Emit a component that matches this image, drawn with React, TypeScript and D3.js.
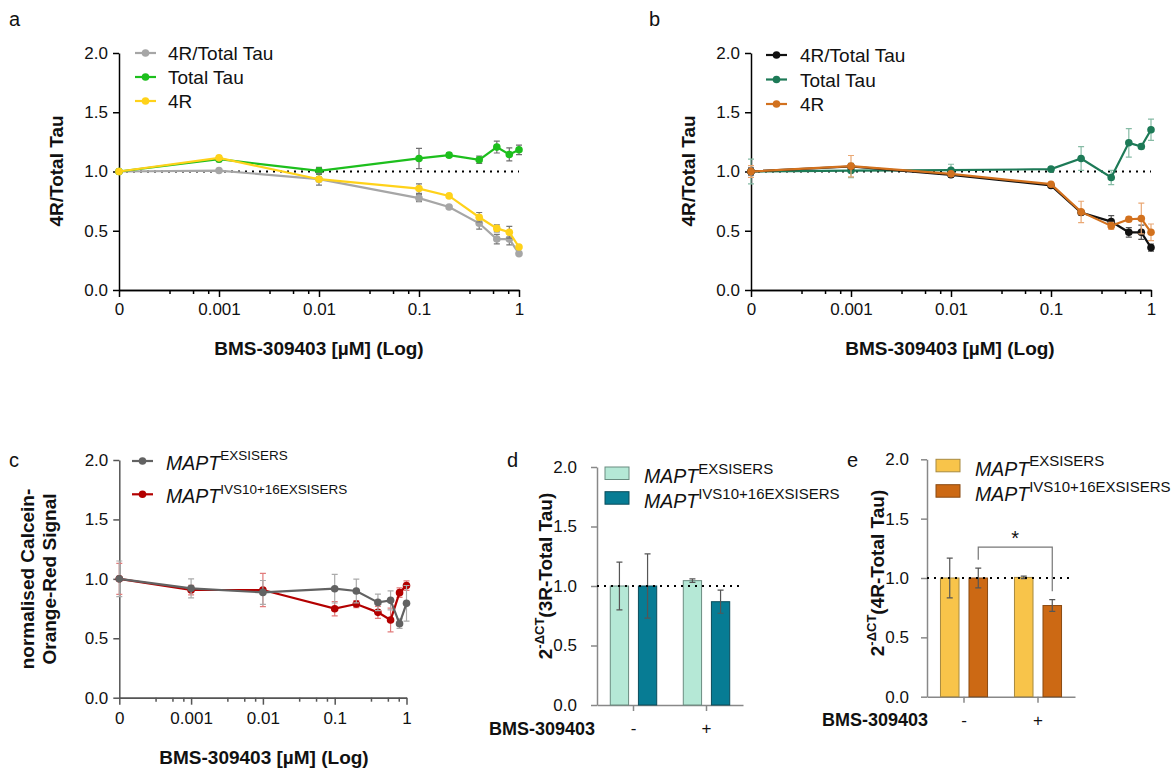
import React, { useEffect, useRef } from "react";
import * as d3 from "d3";

const FONT = "'Liberation Sans', Arial, Helvetica, sans-serif";

// the "0" dose sits at 1e-4 on the log axis
const doses = [0.0001, 0.001, 0.01, 0.1, 0.2, 0.4, 0.6, 0.8, 1];
const doseTicks = [0.0001, 0.001, 0.01, 0.1, 1];
const doseTickLabels = ["0", "0.001", "0.01", "0.1", "1"];
const minorSteps = [3.2, 5.5, 7.8];
const yTicks = [0, 0.5, 1, 1.5, 2];

// panel a
const aRatio = [1.0, 1.008, 0.935, 0.775, 0.7, 0.563, 0.43, 0.43, 0.307];
const aRatioErr = [0, 0.01, 0.02, 0.03, 0.01, 0.05, 0.04, 0.05, 0.01];
const aTotal = [1.0, 1.104, 1.005, 1.11, 1.138, 1.099, 1.206, 1.144, 1.183];
const aTotalErr = [0, 0.02, 0.03, 0.085, 0.02, 0.03, 0.05, 0.055, 0.04];
const a4R = [1.0, 1.115, 0.935, 0.856, 0.794, 0.614, 0.52, 0.487, 0.363];
const a4RErr = [0, 0.02, 0.05, 0.04, 0.01, 0.04, 0.03, 0.05, 0.01];

// panel b
const bRatio = [1.0, 1.042, 0.972, 0.882, 0.654, 0.577, 0.487, 0.487, 0.358];
const bRatioErr = [0.03, 0.02, 0.02, 0.01, 0.02, 0.05, 0.04, 0.06, 0.03];
const bTotal = [1.0, 1.008, 1.011, 1.02, 1.11, 0.95, 1.242, 1.211, 1.352];
const bTotalErr = [0.105, 0.06, 0.05, 0.01, 0.1, 0.06, 0.12, 0.02, 0.09];
const b4R = [1.0, 1.045, 0.98, 0.893, 0.659, 0.541, 0.597, 0.603, 0.487];
const b4RErr = [0.05, 0.09, 0.02, 0.01, 0.09, 0.03, 0.02, 0.13, 0.07];

// panel c
const cEx = [1.0, 0.92, 0.886, 0.917, 0.898, 0.802, 0.819, 0.623, 0.794];
const cExErr = [0.15, 0.08, 0.1, 0.12, 0.1, 0.07, 0.08, 0.04, 0.15];
const cIvs = [1.0, 0.906, 0.906, 0.749, 0.788, 0.718, 0.654, 0.884, 0.943];
const cIvsErr = [0.13, 0.04, 0.14, 0.06, 0.03, 0.05, 0.1, 0.04, 0.04];

// panels d and e
const treatments = ["-", "+"];
const dEx = [1.0, 1.045];
const dExErr = [0.2, 0.015];
const dIvs = [1.0, 0.868];
const dIvsErr = [0.27, 0.097];
const eEx = [1.0, 1.005];
const eExErr = [0.168, 0.01];
const eIvs = [1.0, 0.768];
const eIvsErr = [0.084, 0.05];

type Series = {
  label: string;
  sup?: string;
  values: number[];
  errors: number[];
  color: string;
  errColor: string;
};

const styleAxis = (g: any, color: string) => {
  g.attr("font-family", FONT).attr("font-size", 17);
  g.selectAll("path.domain").attr("stroke", color).attr("stroke-width", 1.5);
  g.selectAll(".tick line").attr("stroke", color).attr("stroke-width", 1.5);
  g.selectAll(".tick text").attr("fill", "#111");
};

// legend text, italic gene name + superscript when needed
const writeLabel = (t: any, s: { label: string; sup?: string }, size: number, supSize: number) => {
  t.append("tspan")
    .attr("font-size", size)
    .attr("font-style", s.sup ? "italic" : "normal")
    .text(s.label);
  if (s.sup) {
    t.append("tspan").attr("font-size", supSize).attr("dy", -9.3).text(s.sup);
  }
};

const drawLinePanel = (svg: any, p: any) => {
  const x = d3.scaleLog().domain([doseTicks[0], doseTicks[doseTicks.length - 1]]).range([p.left, p.right]);
  const y = d3.scaleLinear().domain([0, 2]).range([p.bottom, p.top]);
  const g = svg.append("g");

  if (p.refLine) {
    g.append("line")
      .attr("x1", p.left)
      .attr("x2", p.right)
      .attr("y1", y(1))
      .attr("y2", y(1))
      .attr("stroke", "#000")
      .attr("stroke-width", 2)
      .attr("stroke-dasharray", "2,5");
  }

  const minor = doseTicks.slice(0, -1).flatMap((d) => minorSteps.map((s) => d * s));
  g.append("g")
    .attr("transform", `translate(0,${p.bottom})`)
    .call(d3.axisBottom(x).tickValues(minor).tickSize(4).tickSizeOuter(0).tickFormat(() => ""))
    .call(styleAxis, p.axisColor);
  g.append("g")
    .attr("transform", `translate(0,${p.bottom})`)
    .call(
      d3
        .axisBottom(x)
        .tickValues(doseTicks)
        .tickFormat((_: any, i: number) => doseTickLabels[i])
        .tickSize(7)
        .tickSizeOuter(0)
        .tickPadding(p.xPad)
    )
    .call(styleAxis, p.axisColor);
  g.append("g")
    .attr("transform", `translate(${p.left},0)`)
    .call(d3.axisLeft(y).tickValues(yTicks).tickFormat(d3.format(".1f")).tickSize(6).tickSizeOuter(0).tickPadding(5))
    .call(styleAxis, p.axisColor);

  const line = d3
    .line<number>()
    .x((_, i) => x(doses[i]))
    .y((v) => y(v));

  p.series.forEach((s: Series) => {
    const sg = g.append("g");
    s.values.forEach((v, i) => {
      const e = s.errors[i];
      if (!e) return;
      const cx = x(doses[i]);
      sg.append("path")
        .attr("d", `M${cx},${y(v - e)}V${y(v + e)}M${cx - 3},${y(v - e)}h6M${cx - 3},${y(v + e)}h6`)
        .attr("stroke", s.errColor)
        .attr("stroke-width", 1.2)
        .attr("fill", "none");
    });
    sg.append("path")
      .datum(s.values)
      .attr("d", line)
      .attr("fill", "none")
      .attr("stroke", s.color)
      .attr("stroke-width", 2.2);
    sg.selectAll("circle")
      .data(s.values)
      .join("circle")
      .attr("cx", (_: any, i: number) => x(doses[i]))
      .attr("cy", (v: number) => y(v))
      .attr("r", 3.8)
      .attr("fill", s.color);
  });

  // legend
  p.legendOrder.forEach((s: Series, i: number) => {
    const ly = p.legend.y + i * p.legend.dy;
    const lg = g.append("g");
    lg.append("line")
      .attr("x1", p.legend.x)
      .attr("x2", p.legend.x + 21)
      .attr("y1", ly)
      .attr("y2", ly)
      .attr("stroke", s.color)
      .attr("stroke-width", 2.2);
    lg.append("circle").attr("cx", p.legend.x + 10.5).attr("cy", ly).attr("r", 3.8).attr("fill", s.color);
    const t = lg
      .append("text")
      .attr("x", p.legend.x + p.legend.tx)
      .attr("y", ly + p.legend.by)
      .attr("font-family", FONT)
      .attr("fill", "#111");
    writeLabel(t, s, p.legend.size, 13.5);
  });

  // axis titles
  const yl = g
    .append("text")
    .attr("transform", `translate(${p.yLabel.x},${p.yLabel.y}) rotate(-90)`)
    .attr("text-anchor", "middle")
    .attr("font-family", FONT)
    .attr("font-weight", "bold")
    .attr("font-size", 19)
    .attr("fill", "#111");
  p.yLabel.lines.forEach((l: string, i: number) => {
    yl.append("tspan")
      .attr("x", 0)
      .attr("dy", i === 0 ? `${0.35 - (p.yLabel.lines.length - 1) * 0.58}em` : "1.16em")
      .text(l);
  });
  g.append("text")
    .attr("x", p.xLabel.x)
    .attr("y", p.xLabel.y)
    .attr("text-anchor", "middle")
    .attr("font-family", FONT)
    .attr("font-weight", "bold")
    .attr("font-size", 19)
    .attr("fill", "#111")
    .text("BMS-309403 [µM] (Log)");
};

const drawBarPanel = (svg: any, p: any) => {
  const x0 = d3.scaleBand().domain(treatments).range([p.left, p.right]).paddingInner(0.364).paddingOuter(0.182);
  const x1 = d3
    .scaleBand()
    .domain(p.groups.map((_: any, i: number) => String(i)))
    .range([0, x0.bandwidth()])
    .paddingInner(0.35);
  const y = d3.scaleLinear().domain([0, 2]).range([p.bottom, p.top]);
  const g = svg.append("g");

  g.append("g")
    .attr("transform", `translate(0,${p.bottom})`)
    .call(d3.axisBottom(x0).tickSize(6).tickSizeOuter(0).tickPadding(11))
    .call(styleAxis, p.axisColor);
  g.append("g")
    .attr("transform", `translate(${p.left},0)`)
    .call(
      d3.axisLeft(y).tickValues(yTicks).tickFormat(d3.format(".1f")).tickSize(6).tickSizeOuter(0).tickPadding(p.yPad)
    )
    .call(styleAxis, p.axisColor);

  p.groups.forEach((s: any, gi: number) => {
    treatments.forEach((t, ti) => {
      const bx = (x0(t) as number) + (x1(String(gi)) as number);
      const v = s.values[ti];
      const e = s.errors[ti];
      g.append("rect")
        .attr("x", bx)
        .attr("y", y(v))
        .attr("width", x1.bandwidth())
        .attr("height", y(0) - y(v))
        .attr("fill", s.color)
        .attr("stroke", s.stroke)
        .attr("stroke-width", 1);
      const cx = bx + x1.bandwidth() / 2;
      g.append("path")
        .attr("d", `M${cx},${y(v - e)}V${y(v + e)}M${cx - 3},${y(v - e)}h6M${cx - 3},${y(v + e)}h6`)
        .attr("stroke", "#555")
        .attr("stroke-width", 1.2)
        .attr("fill", "none");
    });
  });

  g.append("line")
    .attr("x1", p.left)
    .attr("x2", p.refEnd)
    .attr("y1", y(1))
    .attr("y2", y(1))
    .attr("stroke", "#000")
    .attr("stroke-width", 2.2)
    .attr("stroke-dasharray", "2,5");

  if (p.signif) {
    const bx = (t: string) => (x0(t) as number) + (x1("1") as number) + x1.bandwidth() / 2;
    const s = p.groups[1];
    const l = bx("-");
    const r = bx("+");
    const top = y(1.26);
    g.append("path")
      .attr(
        "d",
        `M${l},${y(s.values[0] + s.errors[0] + 0.07)}V${top}H${r}V${y(s.values[1] + s.errors[1] + 0.07)}`
      )
      .attr("fill", "none")
      .attr("stroke", "#777")
      .attr("stroke-width", 1.2);
    g.append("text")
      .attr("x", (l + r) / 2)
      .attr("y", top - 2)
      .attr("text-anchor", "middle")
      .attr("font-family", FONT)
      .attr("font-size", 20)
      .attr("fill", "#111")
      .text("*");
  }

  p.groups.forEach((s: any, i: number) => {
    const ly = p.legend.y + i * p.legend.dy;
    g.append("rect")
      .attr("x", p.legend.x)
      .attr("y", ly)
      .attr("width", 24)
      .attr("height", 12.5)
      .attr("fill", s.color)
      .attr("stroke", s.stroke)
      .attr("stroke-width", 1);
    const t = g
      .append("text")
      .attr("x", p.legend.x + 39)
      .attr("y", ly + 16.3)
      .attr("font-family", FONT)
      .attr("fill", "#111");
    writeLabel(t, s, 19.5, 15);
  });

  // treatment label left of tick labels
  g.append("text")
    .attr("x", p.treatX)
    .attr("y", p.bottom + 29.5)
    .attr("text-anchor", "end")
    .attr("font-family", FONT)
    .attr("font-weight", "bold")
    .attr("font-size", 18)
    .attr("fill", "#111")
    .text("BMS-309403");

  const yl = g
    .append("text")
    .attr("transform", `translate(${p.yLabel.x},${p.yLabel.y}) rotate(-90)`)
    .attr("text-anchor", "middle")
    .attr("dy", "0.35em")
    .attr("font-family", FONT)
    .attr("font-weight", "bold")
    .attr("font-size", 19)
    .attr("fill", "#111");
  yl.append("tspan").text("2");
  yl.append("tspan").attr("font-size", 13).attr("dy", -8).text("-ΔCT");
  yl.append("tspan").attr("dy", 8).text(p.yLabel.text);
};

const panelLetter = (svg: any, letter: string, x: number, y: number) => {
  svg
    .append("text")
    .attr("x", x)
    .attr("y", y)
    .attr("font-family", FONT)
    .attr("font-size", 20)
    .attr("fill", "#111")
    .text(letter);
};

const App = () => {
  const ref = useRef<SVGSVGElement>(null);

  useEffect(() => {
    const svg = d3.select(ref.current);
    svg.selectAll("*").remove();

    const aS: Series[] = [
      { label: "4R/Total Tau", values: aRatio, errors: aRatioErr, color: "#a6a6a6", errColor: "#7a7a7a" },
      { label: "Total Tau", values: aTotal, errors: aTotalErr, color: "#1dbf1d", errColor: "#6f6f6f" },
      { label: "4R", values: a4R, errors: a4RErr, color: "#ffd21a", errColor: "#777" },
    ];
    drawLinePanel(svg, {
      left: 119,
      right: 519,
      top: 53,
      bottom: 290,
      axisColor: "#000",
      xPad: 6,
      refLine: true,
      series: aS,
      legendOrder: aS,
      legend: { x: 135, y: 53, dy: 24, tx: 33, by: 7, size: 19 },
      yLabel: { x: 56, y: 171, lines: ["4R/Total Tau"] },
      xLabel: { x: 319, y: 355 },
    });

    const bS: Series[] = [
      { label: "4R/Total Tau", values: bRatio, errors: bRatioErr, color: "#111", errColor: "#555" },
      { label: "Total Tau", values: bTotal, errors: bTotalErr, color: "#1d7a57", errColor: "#86bba5" },
      { label: "4R", values: b4R, errors: b4RErr, color: "#d2711e", errColor: "#eaa874" },
    ];
    drawLinePanel(svg, {
      left: 751,
      right: 1151,
      top: 53,
      bottom: 290,
      axisColor: "#000",
      xPad: 6,
      refLine: true,
      series: [bS[1], bS[0], bS[2]],
      legendOrder: bS,
      legend: { x: 766, y: 55, dy: 24.5, tx: 34, by: 7, size: 19 },
      yLabel: { x: 688, y: 171, lines: ["4R/Total Tau"] },
      xLabel: { x: 950, y: 355 },
    });

    const cS: Series[] = [
      { label: "MAPT", sup: "EXSISERS", values: cEx, errors: cExErr, color: "#626262", errColor: "#ababab" },
      {
        label: "MAPT",
        sup: "IVS10+16EXSISERS",
        values: cIvs,
        errors: cIvsErr,
        color: "#b30000",
        errColor: "#e27c7c",
      },
    ];
    drawLinePanel(svg, {
      left: 119.3,
      right: 406.5,
      top: 460,
      bottom: 697.7,
      axisColor: "#555",
      xPad: 7,
      refLine: false,
      series: [cS[1], cS[0]],
      legendOrder: cS,
      legend: { x: 132, y: 461, dy: 33.3, tx: 34, by: 8.5, size: 19.5 },
      yLabel: { x: 38, y: 579, lines: ["normalised Calcein-", "Orange-Red Signal"] },
      xLabel: { x: 264, y: 764 },
    });

    drawBarPanel(svg, {
      left: 597,
      right: 743,
      top: 467,
      bottom: 705,
      refEnd: 740,
      yPad: 14,
      treatX: 595,
      axisColor: "#888",
      groups: [
        { label: "MAPT", sup: "EXSISERS", values: dEx, errors: dExErr, color: "#b5e8d6", stroke: "#6a8c80" },
        { label: "MAPT", sup: "IVS10+16EXSISERS", values: dIvs, errors: dIvsErr, color: "#077c94", stroke: "#0b4c5a" },
      ],
      legend: { x: 605, y: 467, dy: 24.7 },
      yLabel: { x: 545, y: 576, text: "(3R-Total Tau)" },
    });

    drawBarPanel(svg, {
      left: 927,
      right: 1075,
      top: 459.3,
      bottom: 696.7,
      refEnd: 1070,
      yPad: 12,
      treatX: 928,
      axisColor: "#888",
      signif: true,
      groups: [
        { label: "MAPT", sup: "EXSISERS", values: eEx, errors: eExErr, color: "#f8c44a", stroke: "#a88a40" },
        { label: "MAPT", sup: "IVS10+16EXSISERS", values: eIvs, errors: eIvsErr, color: "#cc6914", stroke: "#8a4a12" },
      ],
      legend: { x: 936, y: 459.3, dy: 25.4 },
      yLabel: { x: 877, y: 573, text: "(4R-Total Tau)" },
    });

    panelLetter(svg, "a", 9, 26);
    panelLetter(svg, "b", 649, 26);
    panelLetter(svg, "c", 9, 467);
    panelLetter(svg, "d", 507, 467);
    panelLetter(svg, "e", 847, 467);
  }, []);

  return (
    <svg
      ref={ref}
      width={1175}
      height={771}
      style={{ position: "absolute", left: 0, top: 0, background: "#fff" }}
    ></svg>
  );
};

export default App;
